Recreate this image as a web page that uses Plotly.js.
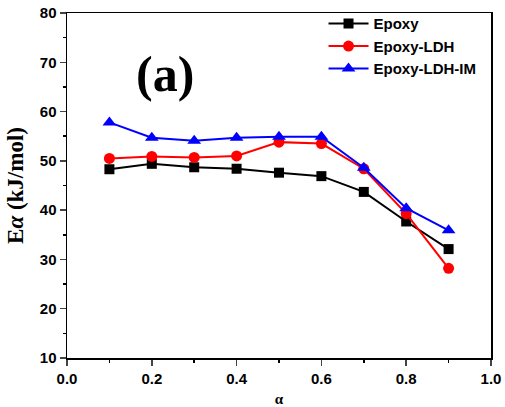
<!DOCTYPE html>
<html><head><meta charset="utf-8">
<script src="https://cdn.plot.ly/plotly-3.0.1.min.js"></script>
<style>html,body{margin:0;padding:0;background:#fff;}</style>
</head><body>
<div id="chart" style="width:505px;height:407px;"></div>
<script>
const alpha = [0.1, 0.2, 0.3, 0.4, 0.5, 0.6, 0.7, 0.8, 0.9];
const epoxy = [48.3, 49.4, 48.7, 48.4, 47.6, 46.9, 43.7, 37.7, 32.1];
const epoxyLDH = [50.5, 50.9, 50.7, 51.0, 53.8, 53.5, 48.4, 39.3, 28.2];
const epoxyLDHIM = [57.8, 54.7, 54.1, 54.7, 54.9, 54.9, 48.6, 40.4, 35.9];
const names = ["Epoxy", "Epoxy-LDH", "Epoxy-LDH-IM"];

const mk = (y, name, color, symbol, size) => ({
  x: alpha, y: y, name: name, type: "scatter", mode: "lines+markers",
  line: {color: color, width: 2},
  marker: {color: color, symbol: symbol, size: size}
});
const data = [
  mk(epoxy, names[0], "#000000", "square", 10),
  mk(epoxyLDH, names[1], "#ff0000", "circle", 11),
  mk(epoxyLDHIM, names[2], "#0000ff", "triangle-up", 12)
];
const tickFont = {family: "Arial, Liberation Sans, sans-serif", size: 15, color: "#000", weight: "bold"};
const layout = {
  width: 505, height: 407,
  margin: {l: 67, r: 14, t: 13, b: 49, autoexpand: false},
  paper_bgcolor: "#fff", plot_bgcolor: "#fff",
  showlegend: true,
  legend: {x: 0.605, y: 0.982, xanchor: "left", yanchor: "top", yref: "container", bgcolor: "rgba(0,0,0,0)",
    font: {family: "Arial, Liberation Sans, sans-serif", size: 15, color: "#000", weight: "bold"},
    tracegroupgap: 0, itemwidth: 40},
  xaxis: {range: [0, 1], dtick: 0.2, tickformat: ".1f", ticks: "outside", ticklen: 6, tickwidth: 1.5,
    showline: true, linewidth: 1.5, linecolor: "#000", mirror: true, showgrid: false, zeroline: false,
    tickfont: tickFont,
    minor: {dtick: 0.1, ticks: "outside", ticklen: 3, tickcolor: "#000", tickwidth: 1.5},
    title: {text: "<b>α</b>", font: {family: "Times New Roman, Liberation Serif, serif", size: 15, color: "#000"}, standoff: 12}},
  yaxis: {range: [10, 80], dtick: 10, ticks: "outside", ticklen: 6, tickwidth: 1.5,
    showline: true, linewidth: 1.5, linecolor: "#000", mirror: true, showgrid: false, zeroline: false,
    tickfont: tickFont,
    minor: {dtick: 5, ticks: "outside", ticklen: 3, tickcolor: "#000", tickwidth: 1.5},
    title: {text: "<b>E<i>α</i> (kJ/mol)</b>", font: {family: "Times New Roman, Liberation Serif, serif", size: 23, color: "#000"}, standoff: 10}},
  annotations: [{
    x: 0.23, y: 67.6, xref: "x", yref: "y", showarrow: false,
    text: "<b>(a)</b>", font: {family: "Times New Roman, Liberation Serif, serif", size: 50, color: "#000"}
  }]
};
Plotly.newPlot("chart", data, layout, {displayModeBar: false, staticPlot: true});
</script>
</body></html>
